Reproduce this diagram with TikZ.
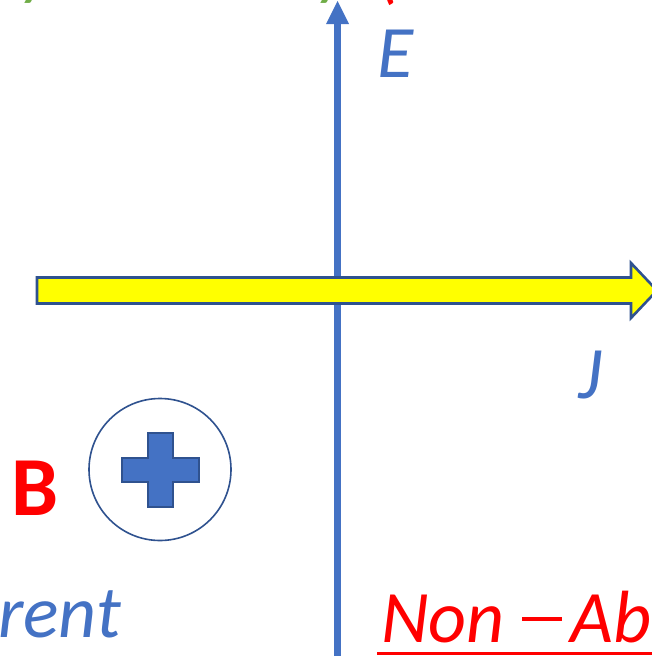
\documentclass[tikz,border=0pt]{standalone}
\usepackage{fontspec}
\setmainfont{Carlito}
\definecolor{pblue}{HTML}{4472C4}
\definecolor{dblue}{HTML}{2F528F}
\definecolor{pgreen}{HTML}{70AD47}
\definecolor{pred}{HTML}{FF0000}
\definecolor{pyellow}{HTML}{FFFF00}
\tikzset{
  lbl/.style={inner sep=0pt, outer sep=0pt, anchor=base west},
  bigit/.style={lbl, font=\fontsize{74}{80}\selectfont\itshape},
}
\begin{document}
\begin{tikzpicture}[x=1pt,y=-1pt]
\useasboundingbox (0,0) rectangle (652,656);
\clip (0,0) rectangle (652,656);
% partial texts at top edge
\node[bigit, text=pgreen] (g1) at (20,-9) {y};
\node[bigit, text=pgreen] (g2) at (316,-9) {y};
\node[bigit, text=pred] (r1) at (378,-5) {(};
% vertical blue arrow
\fill[pblue] (334,656) rectangle (341,22);
\fill[pblue] (326,24) -- (337.5,1) -- (349,24) -- cycle;
% yellow block arrow
\filldraw[fill=pyellow, draw=dblue, line width=2.6pt, line join=miter]
  (37,277.5) -- (631,277.5) -- (631,263) -- (657,290.5) -- (631,318) -- (631,303.5) -- (37,303.5) -- cycle;
% labels
\node[bigit, text=pblue] (E) at (377,77) {E};
\node[bigit, text=pblue] (J) at (578,398) {J};
\node[lbl, text=pred, font=\fontsize{84}{90}\selectfont\bfseries] (B) at (11,515) {B};
% circle with cross
\draw[dblue, line width=1.6pt] (160,469.5) circle (71);
\filldraw[fill=pblue, draw=dblue, line width=1.4pt]
  (148,433) -- (173,433) -- (173,458) -- (199,458) -- (199,482) -- (173,482) -- (173,507) -- (148,507) -- (148,482) -- (122,482) -- (122,458) -- (148,458) -- cycle;
% bottom texts
\node[bigit, text=pblue, anchor=base east] (cur) at (121,637) {rent};
\node[bigit, text=pred] (na) at (381,642) {Non\hspace{0.24em}\rule[0.29em]{0.53em}{0.045em}\hspace{0.12em}Ab};
\draw[pred, line width=3pt] (377,653) -- (652,653);
\end{tikzpicture}
\end{document}
